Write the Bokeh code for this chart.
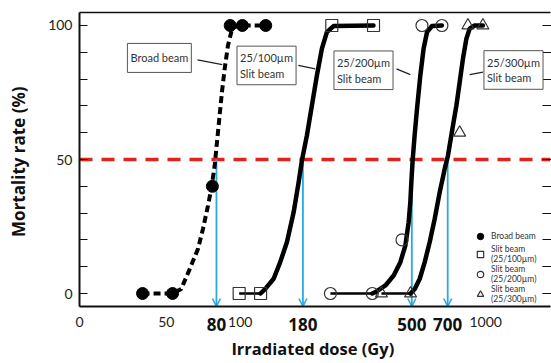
from bokeh.plotting import figure
from bokeh.models import (Span, Arrow, OpenHead, Label, ColumnDataSource,
                          FixedTicker, LinearAxis, LogAxis, Legend, LegendItem, Range1d)
from bokeh.embed import file_html
from bokeh.resources import INLINE

# ---------------- data (dose in Gy, mortality in %) ----------------
broad_dose = [40, 53, 77, 91, 102, 127]
broad_mort = [0, 0, 40, 100, 100, 100]
slit100_dose = [99, 121, 236, 349]
slit100_mort = [0, 0, 100, 100]
slit200_dose = [233, 345, 456, 550, 663]
slit200_mort = [0, 0, 20, 100, 100]
slit300_dose = [376, 494, 783, 846, 974]
slit300_mort = [0, 0, 60, 100, 100]

broad_fit_dose = [40, 53, 57.5, 62.3, 67.3, 70.5, 73.9, 76.2, 78.7, 80.4, 82.4, 84.2, 86.4, 89.1, 91.9, 93.4, 102, 127]
broad_fit_mort = [0, 0, 1.7, 9.2, 16.7, 24.1, 32.8, 39.1, 47.8, 56.5, 66.4, 75.1, 83.8, 92.5, 97.5, 99.4, 100, 100]
slit100_fit_dose = [99, 121, 126.5, 136.8, 145.5, 155.0, 165.0, 172.9, 178.3, 186.9, 195.8, 205.2, 215.0, 225.4, 239.9, 349]
slit100_fit_mort = [0, 0, 1.7, 5.5, 11.7, 19.2, 30.3, 41.5, 49.6, 59.0, 70.1, 81.3, 91.3, 97.5, 99.8, 100]
slit200_fit_dose = [233, 345, 355.4, 390.3, 421.7, 449.0, 470.5, 485.3, 493.0, 497.7, 503.7, 513.3, 524.9, 541.4, 558.3, 576.5, 604.1, 663]
slit200_fit_mort = [0, 0, 0.5, 3.0, 6.7, 11.7, 17.9, 26.6, 34.1, 41.5, 49.6, 59.0, 68.9, 81.3, 91.3, 97.5, 99.8, 100]
slit300_fit_dose = [376, 494, 513.9, 538.6, 564.3, 591.4, 619.8, 649.5, 680.6, 702.0, 735.6, 759.4, 783.2, 807.7, 833.8, 860.0, 901.1, 974]
slit300_fit_mort = [0, 0, 1.7, 5.5, 11.7, 19.2, 27.9, 37.8, 46.5, 51.5, 62.7, 70.1, 78.8, 87.6, 95.0, 98.8, 100, 100]

ld50_dose = [80, 180, 500, 700]          # bold tick labels / arrows
plain_ticks = [50, 100, 1000]
mort_major = [0, 50, 100]
mort_minor = [10, 20, 30, 40, 60, 70, 80, 90]
ld50_level = 50

legend_labels = ["Broad beam", "Slit beam\n(25/100\u00b5m)", "Slit beam\n(25/200\u00b5m)", "Slit beam\n(25/300\u00b5m)"]
note_texts = ["Broad beam", "25/100\u00b5m\nSlit beam", "25/200\u00b5m\nSlit beam", "25/300\u00b5m\nSlit beam"]
note_x = [34.7, 97.0, 240.9, 983.5]
note_y = [87.9, 85.1, 83.3, 83.4]
note_pad = [(3, 8), (3, 5), (3, 5), (3, 5)]
leader_x0 = [67.0, 172.5, 433.1, 974.3]
leader_y0 = [87.2, 85.1, 83.8, 82.6]
leader_x1 = [84.5, 202.0, 493.0, 860.0]
leader_y1 = [85.4, 83.8, 81.7, 81.7]

X_START, X_END = 22.14, 1836.0
Y_START, Y_END = -4.85, 104.85

BLUE = "#2aa9e0"
RED = "#e0231c"
INK = "#111111"

p = figure(width=551, height=363, x_axis_type="log",
           x_range=Range1d(X_START, X_END), y_range=Range1d(Y_START, Y_END),
           output_backend="svg", toolbar_location=None,
           min_border_left=79, min_border_right=0, min_border_top=12, min_border_bottom=57)
p.grid.visible = False
p.outline_line_color = None

# x axis nearest the frame: bold LD50 doses
xa = p.xaxis[0]
xa.ticker = FixedTicker(ticks=ld50_dose)
xa.major_label_overrides = {t: str(t) for t in ld50_dose}
xa.major_tick_line_color = None
xa.minor_tick_line_color = None
xa.axis_line_width = 2
xa.axis_line_color = INK
xa.major_label_text_font = "Open Sans"
xa.major_label_text_font_style = "bold"
xa.major_label_text_font_size = "17px"
xa.major_label_text_color = INK
xa.major_label_standoff = 5

# second x axis: plain dose labels, pulled up into the same row, carries the title
xb = LogAxis(ticker=FixedTicker(ticks=[X_START] + plain_ticks),
             major_label_overrides={X_START: "0", **{t: str(t) for t in plain_ticks}},
             axis_line_color=None, major_tick_line_color=None, minor_tick_line_color=None,
             major_label_text_font="Lato", major_label_text_font_size="14px",
             major_label_text_color="#222222", major_label_standoff=-23,
             axis_label="Irradiated dose  (Gy)", axis_label_text_font="Open Sans",
             axis_label_text_font_style="bold", axis_label_text_font_size="16.5px",
             axis_label_text_color=INK, axis_label_standoff=7)
p.add_layout(xb, "below")

# y axis
ya = p.yaxis[0]
ya.ticker = FixedTicker(ticks=mort_major, minor_ticks=mort_minor)
ya.major_tick_in = 8
ya.major_tick_out = 0
ya.minor_tick_in = 8
ya.minor_tick_out = 0
ya.major_tick_line_color = INK
ya.minor_tick_line_color = INK
ya.axis_line_width = 2
ya.axis_line_color = INK
ya.major_label_text_font = "Lato"
ya.major_label_text_font_size = "14px"
ya.major_label_text_color = "#222222"
ya.major_label_standoff = 7
ya.axis_label = "Mortality rate  (%)"
ya.axis_label_text_font = "Open Sans"
ya.axis_label_text_font_style = "bold"
ya.axis_label_text_font_size = "17px"
ya.axis_label_text_color = INK
ya.axis_label_standoff = 15

ra = LinearAxis(ticker=FixedTicker(ticks=[], minor_ticks=mort_major + mort_minor),
                major_tick_in=0, major_tick_out=0, minor_tick_in=8, minor_tick_out=1,
                minor_tick_line_color=INK, axis_line_color=None, major_label_standoff=0)
p.add_layout(ra, "right")
ta = LogAxis(ticker=FixedTicker(ticks=[]), major_tick_in=0, major_tick_out=0,
             axis_line_width=1.5, axis_line_color=INK, minor_tick_line_color=None,
             major_label_standoff=0)
p.add_layout(ta, "above")

# 50% line and arrows
p.add_layout(Span(location=ld50_level, dimension="width", line_color=RED, line_width=3.5,
                  line_dash="13 9", level="underlay"))
arr_src = ColumnDataSource(dict(x=ld50_dose, y0=[ld50_level] * 4, y1=[Y_START] * 4))
p.add_layout(Arrow(x_start="x", y_start="y0", x_end="x", y_end="y1", source=arr_src,
                   line_color=BLUE, line_width=1.8, level="underlay",
                   end=OpenHead(size=8, line_color=BLUE, line_width=1.6)))

# fitted curves
p.line(broad_fit_dose, broad_fit_mort, line_color="black", line_width=4, line_dash="7 4")
for xs, ys in [(slit100_fit_dose, slit100_fit_mort), (slit200_fit_dose, slit200_fit_mort),
               (slit300_fit_dose, slit300_fit_mort)]:
    p.line(xs[:2], ys[:2], line_color="black", line_width=2.5)
    p.line(xs[1:], ys[1:], line_color="black", line_width=4.5, line_join="round", line_cap="round")

# measured points
r1 = p.scatter(broad_dose, broad_mort, marker="circle", size=12, fill_color="black", line_color="black")
r2 = p.scatter(slit100_dose, slit100_mort, marker="square", size=12, fill_color=None, line_color="#333333", line_width=1.2)
r3 = p.scatter(slit200_dose, slit200_mort, marker="circle", size=12, fill_color=None, line_color="#333333", line_width=1.2)
r4 = p.scatter(slit300_dose, slit300_mort, marker="triangle", size=12, fill_color=None, line_color="#333333", line_width=1.2)

legend = Legend(items=[LegendItem(label=l, renderers=[r]) for l, r in zip(legend_labels, [r1, r2, r3, r4])],
                location=(393, 2), border_line_color=None, background_fill_alpha=0,
                label_text_font="Lato", label_text_font_size="8.5px", label_text_color="#333333",
                glyph_width=16, glyph_height=16, label_standoff=3, spacing=0, padding=3, margin=0)
p.add_layout(legend)

# annotation boxes with leader lines
p.segment(leader_x0, leader_y0, leader_x1, leader_y1, line_color="#222222", line_width=1.3)
for tx, xx, yy, pad in zip(note_texts, note_x, note_y, note_pad):
    p.add_layout(Label(x=xx, y=yy, text=tx, text_align="left", text_baseline="middle",
                       text_font="Lato", text_font_size="11px", text_color="#333333",
                       background_fill_color="white", border_line_color="#555555",
                       border_line_width=1, padding=pad))

open("out.html", "w").write(file_html(p, INLINE))
